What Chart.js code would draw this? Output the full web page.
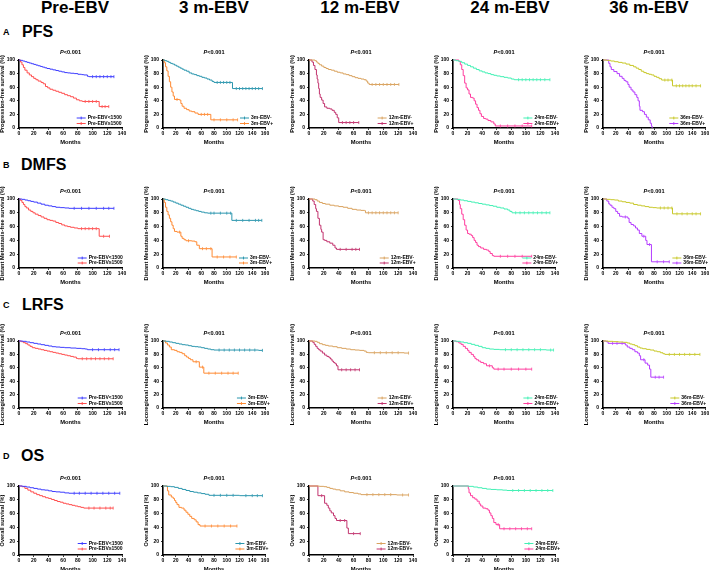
<!DOCTYPE html>
<html><head><meta charset="utf-8">
<script src="https://cdn.jsdelivr.net/npm/chart.js@4/dist/chart.umd.min.js"></script>
<style>
html,body{margin:0;padding:0;background:#fff;}
body{width:709px;height:570px;position:relative;overflow:hidden;font-family:"Liberation Sans",Arial,sans-serif;color:#000;}
.hd{position:absolute;font-weight:bold;font-size:17px;line-height:17px;white-space:nowrap;transform:translateX(-50%);}
.rn{position:absolute;font-weight:bold;font-size:16px;line-height:16px;white-space:nowrap;}
.rl{position:absolute;font-weight:bold;font-size:9px;line-height:9px;}
canvas{position:absolute;}
</style></head><body>
<script>
// ---------- text / categories ----------
const columnTitles = ['Pre-EBV','3 m-EBV','12 m-EBV','24 m-EBV','36 m-EBV'];
const rowLetters = ['A','B','C','D'];
const rowNames = ['PFS','DMFS','LRFS','OS'];
const yTitles = ['Progression-free survival (%)','Distant Metastasis-free survival (%)','Locoregional relapse-free survival (%)','Overall survival (%)'];
const lowLabels = ['Pre-EBV<1500','3m-EBV-','12m-EBV-','24m-EBV-','36m-EBV-'];
const highLabels = ['Pre-EBV\u22651500','3m-EBV+','12m-EBV+','24m-EBV+','36m-EBV+'];
const pText = '<0.001';
const xTicks140 = [0,20,40,60,80,100,120,140];
const xTicks160 = [0,20,40,60,80,100,120,140,160];
const yTicks = [0,20,40,60,80,100];
const xTitle = 'Months';

// ---------- series (month, survival %) ----------
// PFS
const pfsPreLow = [[0,100],[2,99.5],[5,98.5],[8,97.5],[11,96.5],[14,95.5],[17,94.5],[20,93.5],[23,92.5],[26,91.5],[29,90.5],[32,89.5],[35,88.5],[38,87.5],[42,86.5],[46,85.5],[50,84.5],[54,83.5],[58,82.5],[62,81.5],[66,81],[70,80.5],[75,80],[80,79],[85,78.5],[88,78],[93,76],[95,75.5],[100,75.5],[105,75.5],[110,75.5],[115,75.5],[120,75.5],[125,75.5],[129,75.5]];
const pfsPreHigh = [[0,100],[2,97],[4,93],[6,89],[8,85],[11,81],[14,78],[17,75.5],[20,73],[23,71],[26,69],[30,67],[33,65],[36,61],[39,59],[42,57],[46,55.5],[50,54],[54,52.5],[58,51],[62,49],[66,47.5],[70,46],[74,44],[78,41.5],[82,40],[86,39],[90,39],[95,39],[100,39],[105,39],[109,31.5],[113,31.5],[117,31.5],[122,31.5]];
const pfs3mNeg = [[0,100],[3,99],[6,98],[9,96.5],[12,95],[15,94],[18,92.5],[21,91],[24,89.5],[27,88],[30,86.5],[33,85],[37,83.5],[41,81],[45,79.5],[49,78.5],[53,77],[57,76],[61,74.5],[65,73.5],[69,72],[73,70.5],[77,68.5],[80,67],[85,67],[90,67],[95,67],[100,67],[105,67],[109,58],[115,58],[120,58],[125,58],[130,58],[135,58],[140,58],[145,58],[150,58],[156,58]];
const pfs3mPos = [[0,100],[2,96],[4,90],[6,84],[8,76],[10,68],[12,60],[14,53],[16,47],[18,42],[22,42],[26,41],[28,36],[30,32],[33,29],[37,27],[41,25],[45,24],[50,22],[55,20],[60,20],[65,20],[70,20],[75,12],[80,12],[90,12],[100,12],[110,12],[117,12]];
const pfs12mNeg = [[0,100],[8,99],[10,97],[12,95],[14,93],[17,91],[20,89],[23,87.5],[26,86],[30,85],[34,83.5],[38,82],[42,81],[46,79.5],[50,78.5],[54,77],[58,75.5],[62,74],[66,73],[70,72],[74,71],[77,69],[79,66],[81,64],[85,64],[90,64],[95,64],[100,64],[105,64],[110,64],[115,64],[121,64]];
const pfs12mPos = [[0,100],[4,97],[6,92],[8,86],[10,78],[11,72],[12,66],[13,58],[14,50],[15,45],[17,41],[19,36],[21,31],[24,29],[28,28],[31,26],[34,23],[36,20],[38,15],[40,8],[45,8],[50,8],[55,8],[60,8],[67,8]];
const pfs24mNeg = [[0,100],[4,99],[8,98],[12,96],[16,94],[20,92],[24,90],[28,88],[32,86],[36,84],[40,82.5],[44,81],[48,80],[52,78.5],[56,77.5],[60,76.5],[65,75.5],[70,74.5],[75,73.5],[80,72],[84,71],[90,71],[95,71],[100,71],[105,71],[110,71],[115,71],[120,71],[126,71],[133,71]];
const pfs24mPos = [[0,100],[8,98],[10,93],[12,86],[14,77],[16,66],[18,59],[20,56],[22,50],[24,45],[27,44],[29,40],[31,35],[33,30],[35,26],[37,21],[39,17],[42,14],[45,13],[48,11],[52,9],[56,6],[58,3],[65,3],[75,3],[85,3],[95,3],[108,3]];
const pfs36mNeg = [[0,100],[6,99.5],[12,98.5],[18,97.5],[24,96.5],[30,95.5],[36,94],[42,92],[48,90],[52,88],[56,86],[60,83.5],[64,81.5],[68,80],[72,79],[76,78],[80,76],[84,74.5],[88,72.5],[92,70.5],[97,70.5],[102,70.5],[108,70.5],[109,62],[115,62],[120,62],[125,62],[130,62],[135,62],[140,62],[146,62],[153,62]];
const pfs36mPos = [[0,100],[9,95],[11,90],[13,86],[17,83],[22,80],[26,76],[30,73],[33,70],[36,68],[39,64],[41,60],[44,56],[47,53],[50,49],[53,45],[55,40],[57,32],[58,26],[62,24],[65,20],[68,16],[71,12],[74,7],[76,3],[77,0]];
// DMFS
const dmfsPreLow = [[0,100],[4,99.5],[8,98.5],[12,97.5],[16,96.5],[20,95.5],[25,94],[30,92.5],[35,91],[40,90],[45,89],[50,88],[56,87.5],[62,87],[68,86.5],[75,86.5],[85,86.5],[95,86.5],[105,86.5],[115,86.5],[122,86.5],[129,86.5]];
const dmfsPreHigh = [[0,100],[2,98],[4,95],[6,92],[8,89],[10,87],[13,84],[16,82],[19,80],[22,78],[26,76],[30,74],[34,72],[38,70],[42,69],[46,68],[50,66],[54,64.5],[58,62.5],[62,61],[66,60],[70,59],[75,58],[80,57],[85,57],[90,57],[95,57],[100,57],[105,57],[109,46],[115,46],[123,46]];
const dmfs3mNeg = [[0,100],[4,99],[8,98],[12,97],[16,95.5],[20,94],[24,92.5],[28,91],[32,89.5],[36,88],[40,86.5],[44,85],[48,84],[52,83],[56,82],[60,81],[65,80],[70,79.5],[75,79.5],[80,79.5],[90,79.5],[100,79.5],[106,79.5],[108,69],[115,69],[125,69],[135,69],[145,69],[150,69],[155,69]];
const dmfs3mPos = [[0,100],[2,95],[4,88],[6,82],[8,77],[10,72],[12,67],[14,62],[16,57],[18,53],[22,52],[26,52],[28,46],[30,43],[33,41],[36,39.5],[40,39.5],[45,39],[50,38],[53,33],[57,28],[62,28],[68,28],[75,28],[77,16],[85,16],[95,16],[105,16],[115,16]];
const dmfs12mNeg = [[0,100],[8,99],[11,97],[14,95],[18,93.5],[22,92.5],[28,91],[34,90],[40,89],[46,88],[52,86.5],[58,85],[64,84],[70,83.5],[75,83],[76,80],[80,80],[85,80],[90,80],[95,80],[100,80],[105,80],[110,80],[115,80],[120,80]];
const dmfs12mPos = [[0,100],[5,97],[7,92],[9,86],[10,82],[12,72],[14,62],[16,56],[17,52],[19,41],[21,40],[24,38],[28,36],[32,33],[35,29],[37,27],[42,27],[50,27],[58,27],[63,27],[68,27]];
const dmfs24mNeg = [[0,100],[5,99.5],[10,98.5],[15,97.5],[20,96.5],[25,95.5],[30,94.5],[35,93.5],[40,92.5],[45,91.5],[50,90.5],[55,89.5],[60,88],[65,87],[70,85.5],[75,84],[78,82],[81,80],[86,80],[92,80],[98,80],[104,80],[110,80],[116,80],[122,80],[128,80],[133,80]];
const dmfs24mPos = [[0,100],[7,98],[9,92],[10,86],[12,78],[14,70],[16,62],[18,55],[20,50],[22,49],[25,47],[27,44],[29,40],[31,37],[33,33],[35,31],[38,29],[42,27],[46,26],[49,24],[51,21],[54,18],[56,17],[65,17],[75,17],[85,17],[95,17],[108,17]];
const dmfs36mNeg = [[0,100],[6,99.5],[12,99],[18,98.5],[24,97],[30,96],[36,95],[42,94],[48,92],[54,91],[60,90],[66,89],[72,88],[78,87.5],[84,87],[90,87],[96,87],[102,87],[108,87],[109,78.5],[116,78.5],[124,78.5],[132,78.5],[140,78.5],[146,78.5],[153,78.5]];
const dmfs36mPos = [[0,100],[6,97],[9,93],[11,91],[14,88],[17,86],[20,82],[23,79],[26,75],[30,74],[35,74],[39,72],[41,66],[44,63],[48,61],[51,58],[54,55],[57,50],[61,46],[64,46],[67,40],[69,34],[73,34],[76,9],[85,9],[95,9],[104,9]];
// LRFS
const lrfsPreLow = [[0,100],[5,99.5],[10,98.5],[15,97.5],[20,96.5],[25,95.5],[30,94.5],[35,93.5],[40,92.5],[45,91.5],[50,91],[56,90.5],[62,90],[70,89.5],[78,89],[85,88.5],[90,88],[93,87],[100,87],[108,87],[116,87],[124,87],[130,87],[136,87]];
const lrfsPreHigh = [[0,100],[3,99],[6,97.5],[9,96],[12,94],[15,92],[18,90],[22,89],[26,88],[30,87],[34,86],[38,85],[42,84],[46,83],[50,82],[54,81],[58,80],[62,79],[66,78],[70,77],[74,76],[78,74],[80,73.5],[86,73.5],[92,73.5],[98,73.5],[104,73.5],[110,73.5],[116,73.5],[122,73.5],[128,73.5]];
const lrfs3mNeg = [[0,100],[5,99.5],[10,98.5],[15,97.5],[20,96.5],[25,95.5],[30,94.5],[35,94],[40,93],[45,92],[50,91.5],[55,91],[60,90],[65,89],[70,88],[75,87],[80,86.5],[88,86.5],[96,86.5],[104,86.5],[112,86.5],[120,86.5],[128,86.5],[136,86.5],[144,86.5],[150,86],[156,86]];
const lrfs3mPos = [[0,100],[4,97],[7,94],[10,91],[13,87],[18,86],[22,84],[26,83],[30,81],[34,78],[37,76],[40,74],[43,72],[47,69],[52,69],[57,61],[62,61],[64,52],[72,52],[82,52],[92,52],[102,52],[110,52],[118,52]];
const lrfs12mNeg = [[0,100],[8,99.5],[11,98],[14,96],[18,94.5],[22,93.5],[26,92.5],[32,91.5],[38,90],[44,89],[50,88],[56,87],[62,86.5],[68,86],[74,85],[77,83],[80,82.5],[88,82.5],[96,82.5],[104,82.5],[112,82.5],[120,82.5],[128,82],[134,82]];
const lrfs12mPos = [[0,100],[5,98],[7,95],[9,92],[11,89],[13,87],[15,85],[18,82],[21,79],[24,77],[27,75],[29,73],[31,70],[33,68],[35,66],[37,63],[39,57],[44,57],[50,57],[56,57],[62,57],[68,57]];
const lrfs24mNeg = [[0,100],[5,99.5],[10,98.5],[15,97.5],[20,96.5],[25,95],[30,93.5],[35,92],[40,90],[45,89],[50,88],[56,87.5],[64,87],[72,87],[80,87],[88,87],[96,87],[104,87],[112,87],[120,87],[128,86.5],[134,86.5],[138,86.5]];
const lrfs24mPos = [[0,100],[4,99],[8,97],[11,95],[14,92],[17,89],[20,86],[22,83],[25,80],[28,77],[30,74],[32,72],[35,70],[38,68],[42,66],[46,63],[50,63],[54,60],[56,58],[62,58],[70,58],[80,58],[90,58],[100,58],[108,58]];
const lrfs36mNeg = [[0,100],[8,99.5],[16,99],[24,98.5],[32,98],[38,97],[42,95.5],[46,94.5],[50,93],[54,91],[58,89.5],[62,88.5],[68,87.5],[74,86.5],[80,85],[85,84],[90,82.5],[94,81],[97,80],[104,80],[112,80],[120,80],[128,80],[136,80],[144,80],[152,80]];
const lrfs36mPos = [[0,100],[5,99],[8,96.5],[15,96.5],[22,96.5],[30,96.5],[35,94],[38,91],[42,89],[46,87],[50,84],[54,82],[57,78],[59,72],[64,72],[66,67],[70,64],[73,58],[75,46],[82,46],[88,46],[95,46]];
// OS
const osPreLow = [[0,100],[5,99.5],[10,98.5],[15,97.5],[20,96.5],[25,95.5],[30,94.5],[35,94],[40,93],[45,92],[50,91.5],[56,91],[62,90],[68,89.5],[75,89.5],[82,89.5],[90,89.5],[98,89.5],[106,89.5],[114,89.5],[122,89.5],[130,89.5],[137,89.5]];
const osPreHigh = [[0,100],[4,99],[8,96.5],[12,94],[16,91.5],[20,89.5],[24,87.5],[28,86],[32,84.5],[36,83],[40,82],[44,80.5],[48,79],[52,77.5],[56,76.5],[60,75],[64,74],[68,73],[72,72],[76,71],[80,70],[84,69],[88,68],[95,68],[102,68],[110,68],[118,68],[124,68],[128,68]];
const os3mNeg = [[0,100],[6,99.5],[12,99],[18,98],[24,96.5],[30,95],[36,93.5],[42,92],[48,91],[54,90],[60,89],[66,88],[72,86.5],[80,86.5],[90,86.5],[100,86.5],[110,86.5],[120,86],[130,86],[140,86],[148,86],[156,86]];
const os3mPos = [[0,100],[7,93],[9,87],[13,84],[16,82],[18,79],[20,76],[22,73],[25,69],[29,68],[33,65],[36,62],[39,59],[42,56],[45,53],[49,51],[52,48],[55,44],[58,42],[66,42],[76,42],[86,42],[96,42],[106,42],[116,42]];
const os12mNeg = [[0,100],[14,99.5],[20,99],[24,98],[28,96.5],[32,95.5],[36,94.5],[42,93],[48,91.5],[54,90.5],[60,89.5],[66,88.5],[70,87.5],[78,87.5],[86,87.5],[94,87.5],[102,87.5],[110,87.5],[118,87],[126,87],[134,87]];
const os12mPos = [[0,100],[12,86],[17,86],[21,75],[24,72],[26,68],[28,64],[30,61],[33,57],[35,53],[37,50],[42,50],[48,50],[51,39],[53,31],[60,31],[69,31]];
const os24mNeg = [[0,100],[22,99.5],[28,98.5],[34,97.5],[40,96.5],[46,95.5],[52,95],[60,94.5],[68,94],[74,93.5],[82,93.5],[90,93.5],[98,93.5],[106,93.5],[114,93.5],[122,93.5],[130,93.5],[137,93.5]];
const os24mPos = [[0,100],[21,96],[22,90],[24,86],[27,83],[30,81],[33,78],[36,74],[38,71],[41,68],[45,67],[48,65],[50,61],[52,57],[54,53],[56,47],[59,44],[62,44],[64,38],[70,38],[78,38],[86,38],[94,38],[102,38],[108,38]];

// ---------- styling / layout ----------
const lowColors  = ['#3c3cff','#2b96ae','#d9a25e','#42f0b4','#c8c82a'];
const highColors = ['#ff4d4d','#ff8a33','#c2336e','#ff3d9e','#b43cff'];
const colX0 = [19,163,309,453,603];
const colW  = [103,102,104,102,102];
const rowY100 = [60,199,341,486];
const rowH = [68,69,67,69];
const colCenters = [75,214,360,510,649];
const legendFrac = [[0.56,0.755,0.66,0.69,0.65],[0.57,0.745,0.68,0.68,0.68],[0.57,0.725,0.66,0.69,0.66],[0.57,0.71,0.65,0.70,0]];
const legendRowsY = [[-10,-4.5],[-10,-5],[-10,-4.5],[-11.5,-6]];

const panels = [
  {r:0,c:0,lo:pfsPreLow,hi:pfsPreHigh,xt:xTicks140},
  {r:0,c:1,lo:pfs3mNeg,hi:pfs3mPos,xt:xTicks160},
  {r:0,c:2,lo:pfs12mNeg,hi:pfs12mPos,xt:xTicks140},
  {r:0,c:3,lo:pfs24mNeg,hi:pfs24mPos,xt:xTicks140},
  {r:0,c:4,lo:pfs36mNeg,hi:pfs36mPos,xt:xTicks160},
  {r:1,c:0,lo:dmfsPreLow,hi:dmfsPreHigh,xt:xTicks140},
  {r:1,c:1,lo:dmfs3mNeg,hi:dmfs3mPos,xt:xTicks160},
  {r:1,c:2,lo:dmfs12mNeg,hi:dmfs12mPos,xt:xTicks140},
  {r:1,c:3,lo:dmfs24mNeg,hi:dmfs24mPos,xt:xTicks140},
  {r:1,c:4,lo:dmfs36mNeg,hi:dmfs36mPos,xt:xTicks160},
  {r:2,c:0,lo:lrfsPreLow,hi:lrfsPreHigh,xt:xTicks140},
  {r:2,c:1,lo:lrfs3mNeg,hi:lrfs3mPos,xt:xTicks160},
  {r:2,c:2,lo:lrfs12mNeg,hi:lrfs12mPos,xt:xTicks140},
  {r:2,c:3,lo:lrfs24mNeg,hi:lrfs24mPos,xt:xTicks140},
  {r:2,c:4,lo:lrfs36mNeg,hi:lrfs36mPos,xt:xTicks160},
  {r:3,c:0,lo:osPreLow,hi:osPreHigh,xt:xTicks140},
  {r:3,c:1,lo:os3mNeg,hi:os3mPos,xt:xTicks160},
  {r:3,c:2,lo:os12mNeg,hi:os12mPos,xt:xTicks140},
  {r:3,c:3,lo:os24mNeg,hi:os24mPos,xt:xTicks140}
];

const FAM = '"Liberation Sans", Arial, sans-serif';

// headers
columnTitles.forEach((t,i)=>{
  const d=document.createElement('div'); d.className='hd'; d.textContent=t;
  d.style.left=colCenters[i]+'px'; d.style.top='-1px'; document.body.appendChild(d);
});
const rowBase = [37,170,310,461.7];
const rowWordX = [22,21,22,21];
rowNames.forEach((t,i)=>{
  const d=document.createElement('div'); d.className='rn'; d.textContent=t;
  d.style.left=rowWordX[i]+'px'; d.style.top=(rowBase[i]-13.3)+'px'; document.body.appendChild(d);
  const l=document.createElement('div'); l.className='rl'; l.textContent=rowLetters[i];
  l.style.left='3px'; l.style.top=(rowBase[i]-2-7.5)+'px'; document.body.appendChild(l);
});

const pvalPlugin = {
  id:'pval',
  afterDraw(chart){
    const {ctx, chartArea:ca} = chart;
    ctx.save(); ctx.fillStyle='#000'; ctx.textBaseline='middle'; ctx.textAlign='left';
    const f1='italic bold 5.6px '+FAM, f2='bold 5.6px '+FAM;
    ctx.font=f1; const w1=ctx.measureText('P').width;
    ctx.font=f2; const w2=ctx.measureText(pText).width;
    const x=(ca.left+ca.right)/2-(w1+w2)/2, y=ca.top-8;
    ctx.font=f1; ctx.fillText('P',x,y);
    ctx.font=f2; ctx.fillText(pText,x+w1,y);
    ctx.restore();
  }
};
const kmLegend = {
  id:'kmLegend',
  afterDraw(chart, args, opts){
    const {ctx, chartArea:ca} = chart;
    const lx = ca.left + opts.frac*(ca.right-ca.left);
    ctx.save();
    chart.data.datasets.forEach((ds,i)=>{
      const y = ca.bottom + opts.rows[i];
      ctx.strokeStyle=ds.borderColor; ctx.lineWidth=1;
      ctx.beginPath(); ctx.moveTo(lx,y); ctx.lineTo(lx+9,y); ctx.stroke();
      ctx.beginPath(); ctx.moveTo(lx+4.5,y-1.4); ctx.lineTo(lx+4.5,y+1.4); ctx.stroke();
      ctx.fillStyle='#000'; ctx.font='bold 5px '+FAM; ctx.textBaseline='middle'; ctx.textAlign='left';
      ctx.fillText(ds.label, lx+11, y);
    });
    ctx.restore();
  }
};

function censorRadius(ctx){
  const d=ctx.dataset.data, i=ctx.dataIndex;
  return (i>0 && d[i].y===d[i-1].y) ? 1.5 : 0;
}
function mkDataset(label, arr, color){
  return {label, data: arr.map(p=>({x:p[0],y:p[1]})), borderColor:color, backgroundColor:color,
    borderWidth:1, stepped:'before', fill:false, tension:0,
    pointRadius:censorRadius, pointHoverRadius:0, pointStyle:'line', rotation:90,
    pointBorderColor:color, pointBorderWidth:0.8, clip:3};
}

const PADT=26, YW=20, XH=18, PADB=8, PADR=12;
panels.forEach(p=>{
  const w=colW[p.c], h=rowH[p.r];
  const cw=w+YW+PADR, ch=h+PADT+XH+PADB;
  const cv=document.createElement('canvas');
  cv.width=cw; cv.height=ch; cv.style.width=cw+'px'; cv.style.height=ch+'px';
  cv.style.left=(colX0[p.c]-YW)+'px'; cv.style.top=(rowY100[p.r]-PADT)+'px';
  document.body.appendChild(cv);
  const xmax=p.xt[p.xt.length-1];
  const tickFont={family:FAM,size:5,weight:'bold'};
  new Chart(cv,{
    type:'line',
    data:{datasets:[mkDataset(lowLabels[p.c],p.lo,lowColors[p.c]), mkDataset(highLabels[p.c],p.hi,highColors[p.c])]},
    options:{
      responsive:false, animation:false, devicePixelRatio:1,
      layout:{padding:{top:PADT,right:PADR,bottom:PADB,left:0}},
      plugins:{legend:{display:false}, tooltip:{enabled:false}, title:{display:false},
        kmLegend:{frac:legendFrac[p.r][p.c], rows:legendRowsY[p.r]}},
      scales:{
        x:{type:'linear', min:0, max:xmax,
          afterFit:a=>{a.height=XH;},
          afterBuildTicks:a=>{a.ticks=p.xt.map(v=>({value:v}));},
          ticks:{font:tickFont,color:'#000',padding:1,maxRotation:0,autoSkip:false},
          grid:{display:true,drawOnChartArea:false,drawTicks:true,tickLength:2,color:'#000',tickWidth:0.8},
          border:{display:true,color:'#000',width:1.4},
          title:{display:true,text:xTitle,color:'#000',font:{family:FAM,size:5.8,weight:'bold'},padding:0}},
        y:{type:'linear', min:0, max:100,
          afterFit:a=>{a.width=YW;},
          afterBuildTicks:a=>{a.ticks=yTicks.map(v=>({value:v}));},
          ticks:{font:tickFont,color:'#000',padding:2,autoSkip:false},
          grid:{display:true,drawOnChartArea:false,drawTicks:true,tickLength:2,color:'#000',tickWidth:0.8},
          border:{display:true,color:'#000',width:1.6},
          title:{display:true,text:yTitles[p.r],color:'#000',font:{family:FAM,size:5.6,weight:'bold'},padding:0}}
      }
    },
    plugins:[pvalPlugin,kmLegend]
  });
});
</script>
</body></html>
